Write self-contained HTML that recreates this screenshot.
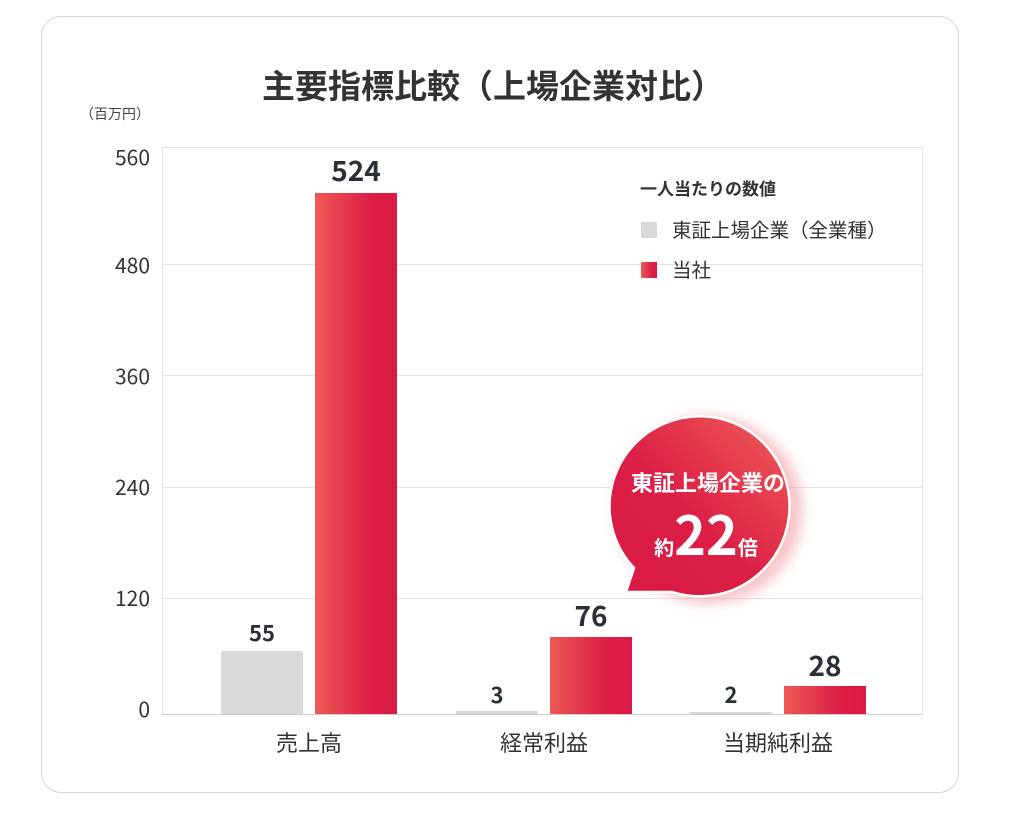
<!DOCTYPE html>
<html><head><meta charset="utf-8"><style>
body{margin:0;width:1024px;height:823px;background:#fff;position:relative;overflow:hidden;font-family:"Noto Sans CJK JP","Liberation Sans",sans-serif;color:#333}
.a{position:absolute}
.card{left:41px;top:16px;width:916px;height:775px;border:1.5px solid #d6d6d6;border-radius:20px}
.yl{position:absolute;right:874px;font-size:21px;color:#333;text-align:right;line-height:24px}
.grid{position:absolute;left:162px;width:761px;height:1px;background:#e2e2e2}
.red{background:linear-gradient(90deg,#ef5a55 0%,#e43a4e 35%,#dc1d45 70%,#d91a44 100%)}
.gray{background:#d9d9d9}
.v{position:absolute;font-weight:bold;color:#2b3038;text-align:center;width:100px;line-height:1}
.c{position:absolute;font-size:22px;color:#333;text-align:center;width:160px;top:727px;line-height:30px}
</style></head><body>
<div class="a card"></div>
<div class="a" style="left:0;width:986px;top:62px;text-align:center;font-size:33px;font-weight:bold;color:#333;line-height:44px">主要指標比較（上場企業対比）</div>
<div class="a" style="left:80px;top:104px;font-size:14px;color:#444;line-height:20px">（百万円）</div>
<div class="a" style="left:162px;top:147px;width:761px;height:567px;border-top:1px solid #e2e2e2;border-left:1px solid #e2e2e2;border-right:1px solid #e2e2e2;box-sizing:border-box"></div>
<div class="grid" style="top:264px"></div><div class="grid" style="top:375px"></div><div class="grid" style="top:487px"></div><div class="grid" style="top:598px"></div>
<div class="grid" style="top:714px;background:#ccc"></div>
<div class="yl" style="top:145px">560</div><div class="yl" style="top:253px">480</div><div class="yl" style="top:364px">360</div><div class="yl" style="top:475px">240</div><div class="yl" style="top:586px">120</div><div class="yl" style="top:697px">0</div>
<div class="a gray" style="left:221px;top:651px;width:82px;height:63px"></div>
<div class="a red" style="left:315px;top:193px;width:82px;height:521px"></div>
<div class="a gray" style="left:456px;top:711px;width:82px;height:3px"></div>
<div class="a red" style="left:550px;top:637px;width:82px;height:77px"></div>
<div class="a gray" style="left:690px;top:712px;width:82px;height:2px"></div>
<div class="a red" style="left:784px;top:686px;width:82px;height:28px"></div>
<div class="v" style="left:212px;top:621px;font-size:22px">55</div>
<div class="v" style="left:306px;top:156px;font-size:28px">524</div>
<div class="v" style="left:447px;top:683px;font-size:22px">3</div>
<div class="v" style="left:541px;top:601px;font-size:28px">76</div>
<div class="v" style="left:681px;top:683px;font-size:22px">2</div>
<div class="v" style="left:775px;top:651px;font-size:28px">28</div>
<div class="c" style="left:229px">売上高</div><div class="c" style="left:464px">経常利益</div><div class="c" style="left:698px">当期純利益</div>
<div class="a" style="left:640px;top:176px;font-size:17px;font-weight:bold;color:#333;line-height:24px">一人当たりの数値</div>
<div class="a gray" style="left:641px;top:222px;width:16px;height:16px"></div>
<div class="a" style="left:672px;top:216px;font-size:19.5px;line-height:26px">東証上場企業（全業種）</div>
<div class="a red" style="left:641px;top:262px;width:16px;height:16px"></div>
<div class="a" style="left:672px;top:256px;font-size:19.5px;line-height:26px">当社</div>
<svg class="a" style="left:590px;top:400px" width="240" height="220">
<defs><linearGradient id="g" x1="1" y1="0" x2="0" y2="1"><stop offset="0" stop-color="#ef5f58"/><stop offset="0.55" stop-color="#dc1f46"/><stop offset="1" stop-color="#d81a44"/></linearGradient>
<filter id="f" x="-30%" y="-30%" width="160%" height="160%"><feGaussianBlur stdDeviation="6"/></filter></defs>
<circle cx="119" cy="110" r="94" fill="#f3a0a8" opacity="0.6" filter="url(#f)"/>
<path d="M44,168 A90,90 0 1 1 82,192 L36,192 Z" fill="url(#g)" stroke="#fff" stroke-width="2.5"/>
<text x="118" y="91" font-size="22" font-weight="bold" fill="#fff" text-anchor="middle" font-family="Noto Sans CJK JP,sans-serif">東証上場企業の</text>
<text x="116" y="155" fill="#fff" text-anchor="middle" font-weight="bold" font-family="Noto Sans CJK JP,sans-serif"><tspan font-size="20">約</tspan><tspan font-size="54">22</tspan><tspan font-size="20">倍</tspan></text>
</svg>
</body></html>
